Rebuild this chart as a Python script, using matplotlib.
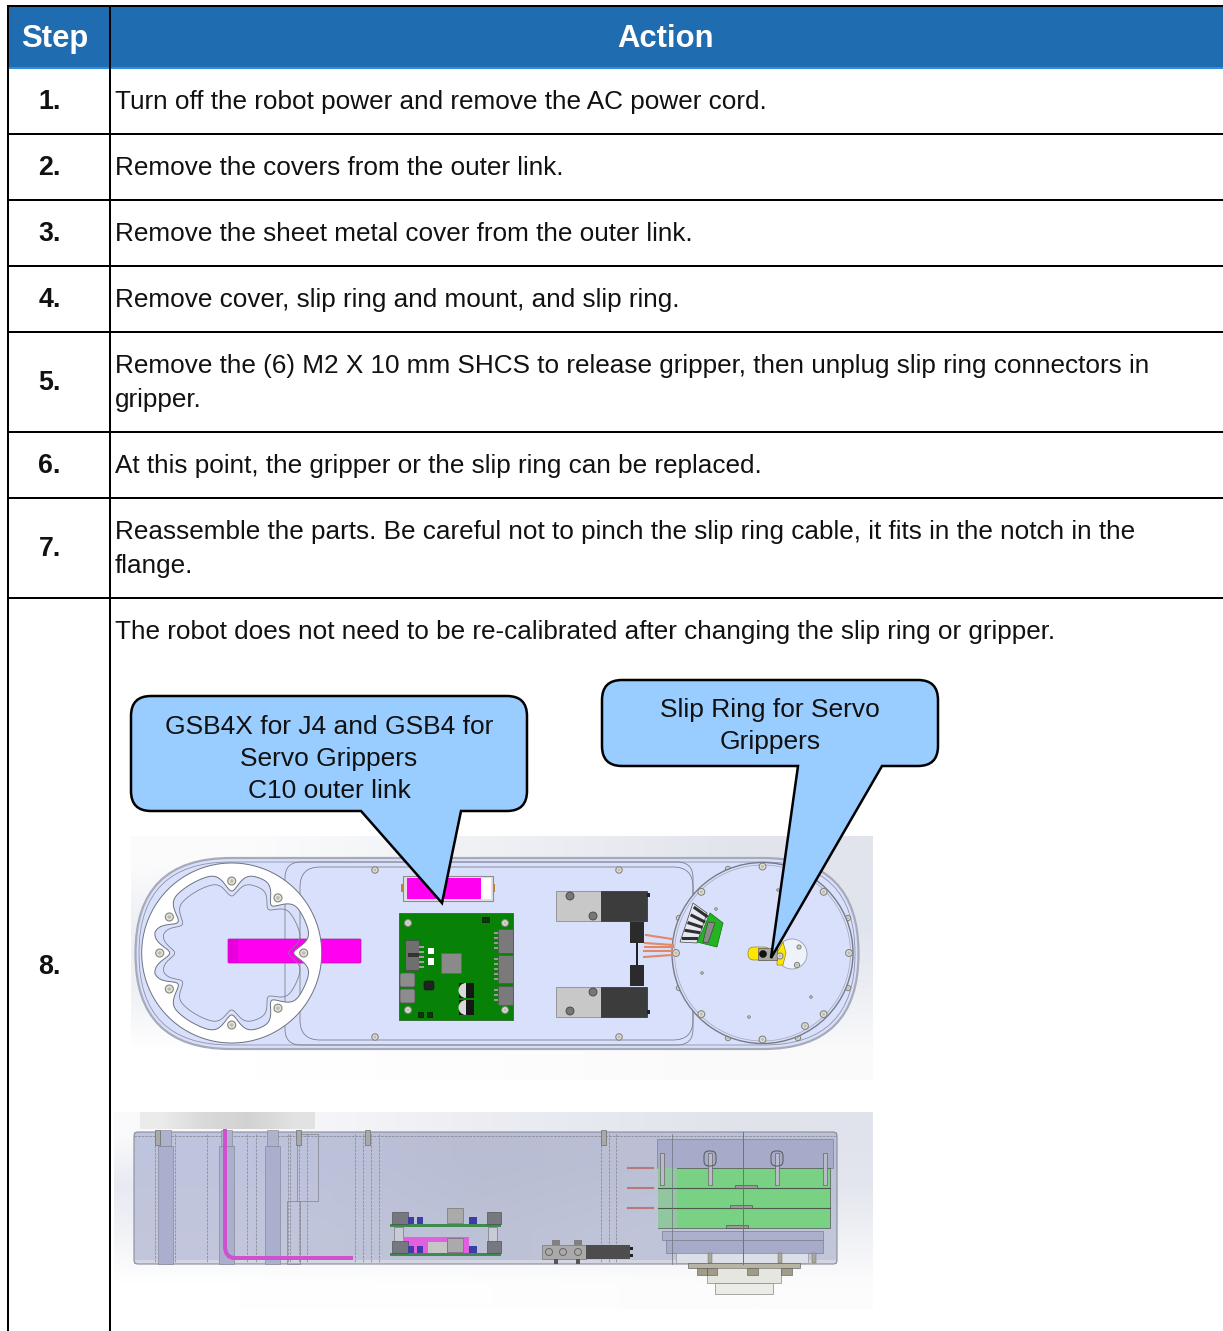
import numpy as np
import matplotlib
matplotlib.use('Agg')
import matplotlib.pyplot as plt
from matplotlib.patches import Rectangle, Circle, Polygon, PathPatch, FancyBboxPatch, Wedge
from matplotlib.path import Path

plt.rcParams['font.family'] = ['Liberation Sans', 'DejaVu Sans']

W, H = 1223, 1331
headers = ['Step', 'Action']
steps = ['1.', '2.', '3.', '4.', '5.', '6.', '7.', '8.']
actions = [
    ['Turn off the robot power and remove the AC power cord.'],
    ['Remove the covers from the outer link.'],
    ['Remove the sheet metal cover from the outer link.'],
    ['Remove cover, slip ring and mount, and slip ring.'],
    ['Remove the (6) M2 X 10 mm SHCS to release gripper, then unplug slip ring connectors in', 'gripper.'],
    ['At this point, the gripper or the slip ring can be replaced.'],
    ['Reassemble the parts. Be careful not to pinch the slip ring cable, it fits in the notch in the', 'flange.'],
    ['The robot does not need to be re-calibrated after changing the slip ring or gripper.'],
]
row_tops = [68, 134, 200, 266, 332, 432, 498, 598]
step_base = [109, 175, 241, 307, 390, 473, 556, 974]
callout1 = ['GSB4X for J4 and GSB4 for', 'Servo Grippers', 'C10 outer link']
callout2 = ['Slip Ring for Servo', 'Grippers']

BLUE = '#1f6cb0'
BODY = '#d9e0fb'
LINE = '#7d808c'
CALL = '#99ccff'

fig = plt.figure(figsize=(W / 100, H / 100), dpi=100)
ax = fig.add_axes([0, 0, 1, 1])
ax.set_xlim(0, W)
ax.set_ylim(H, 0)
ax.axis('off')
px = 0.72  # pixels to points at dpi 100


def rect(x0, y0, x1, y1, fc, ec='none', lw=0, z=3):
    ax.add_patch(Rectangle((x0, y0), x1 - x0, y1 - y0, fc=fc, ec=ec, lw=lw, zorder=z))


def rrect(x0, y0, x1, y1, r, fc='none', ec=LINE, lw=0.7, z=3):
    ax.add_patch(FancyBboxPatch((x0 + r, y0 + r), x1 - x0 - 2 * r, y1 - y0 - 2 * r,
                                boxstyle='round,pad=%f,rounding_size=%f' % (r, r),
                                fc=fc, ec=ec, lw=lw, zorder=z))


def circ(x, y, r, fc='none', ec=LINE, lw=0.7, z=3):
    ax.add_patch(Circle((x, y), r, fc=fc, ec=ec, lw=lw, zorder=z))


def bolt(x, y, r=3.5, z=5):
    circ(x, y, r, '#e4e3da', '#85857f', 0.8, z)
    circ(x, y, r * 0.45, '#bdbcb2', 'none', 0, z)


def shade(x0, y0, x1, y1, grid, z=1):
    # grid of colours, rows top to bottom, blended across the box
    cols = np.array([[matplotlib.colors.to_rgb(c) for c in row] for row in grid])
    ax.imshow(cols, extent=(x0, x1, y1, y0), aspect='auto', interpolation='bilinear', zorder=z)
    ax.set_xlim(0, W)
    ax.set_ylim(H, 0)


def callout(x0, y0, x1, y1, tail, r=20):
    verts = [(x0 + r, y0), (x1 - r, y0), (x1, y0), (x1, y0 + r), (x1, y1 - r), (x1, y1), (x1 - r, y1)]
    codes = [Path.MOVETO, Path.LINETO, Path.CURVE3, Path.CURVE3, Path.LINETO, Path.CURVE3, Path.CURVE3]
    for p in [tail[2], tail[1], tail[0]]:
        verts.append(p)
        codes.append(Path.LINETO)
    verts += [(x0 + r, y1), (x0, y1), (x0, y1 - r), (x0, y0 + r), (x0, y0), (x0 + r, y0), (x0 + r, y0)]
    codes += [Path.LINETO, Path.CURVE3, Path.CURVE3, Path.LINETO, Path.CURVE3, Path.CURVE3, Path.CLOSEPOLY]
    ax.add_patch(PathPatch(Path(verts, codes), fc=CALL, ec='black', lw=2.5 * px, joinstyle='miter', zorder=20))


# top view of the arm
def top_view():
    shade(131, 836, 873, 1080, [['#fbfbfc', '#eef0f4', '#e2e4ec'],
                                ['#eceef3', '#e8eaf1', '#e0e4ee'],
                                ['#eef0f4', '#eceef3', '#eceef3'],
                                ['#ffffff', '#fdfdfe', '#fafafb']])
    rrect(135.5, 858, 858.5, 1049, 95, BODY, '#a6aaba', 1.6, 3)
    rrect(139, 862, 855, 1045, 91, 'none', '#8f93a3', 0.6, 3)
    rrect(285, 862, 693, 1045, 16, 'none', LINE, 0.6, 3)
    rrect(300, 867, 693, 1040, 20, 'none', LINE, 0.6, 3)
    rrect(228, 939, 361, 963, 1, '#ff00f0', '#a020a0', 0.5, 4)
    rect(228, 939, 238, 963, '#e800dc', z=4)

    # wrist ring with the scalloped inner edge
    cx, cy = 231.7, 953
    bolts = np.radians([0, 50, 90, 150, 180, 210, 270, 310])
    th = np.linspace(0, 2 * np.pi, 720, endpoint=False)
    d = np.abs((th[:, None] - bolts + np.pi) % (2 * np.pi) - np.pi)
    bump = np.exp(-(d / 0.14) ** 2).max(axis=1)
    rin = 80 - 18 * bump
    outer = np.c_[cx + 90 * np.cos(th), cy - 90 * np.sin(th)]
    inner = np.c_[cx + rin * np.cos(th), cy - rin * np.sin(th)][::-1]
    verts = np.r_[outer, outer[:1], inner, inner[:1]]
    codes = ([Path.MOVETO] + [Path.LINETO] * 719 + [Path.CLOSEPOLY]) * 2
    ax.add_patch(PathPatch(Path(verts, codes), fc='white', ec='#6e7180', lw=0.7, zorder=5))
    r2 = 71 - 14 * bump
    ax.plot(cx + r2 * np.cos(th), cy - r2 * np.sin(th), color=LINE, lw=0.6, zorder=5)
    for b in bolts:
        bolt(cx + 72 * np.cos(b), cy - 72 * np.sin(b), 4, 6)

    for x, y in [(375, 870), (375, 1037), (619, 870), (619, 1037)]:
        bolt(x, y, 3.2)

    # battery
    rect(403, 876, 493, 901, '#dfe0e6', '#8d8d8d', 0.8, 4)
    rect(407, 878, 481, 899, '#ff00f0', z=5)
    rect(481, 878, 491, 899, 'white', z=5)
    rect(401, 884, 403, 892, '#c08040', z=5)
    rect(493, 884, 495, 892, '#c08040', z=5)

    # PCB
    rect(399, 913, 513, 1020, '#078207', '#2d6a2d', 0.6, 5)
    for x, y in [(408, 923), (505, 923), (408, 1010), (505, 1010)]:
        bolt(x, y, 3.4, 6)
    rect(405, 940, 419, 970, '#6f6f6f', '#444444', 0.5, 6)
    rect(408, 953, 419, 957, '#333333', z=6)
    for y in [946, 951, 956, 961, 966]:
        rect(419, y, 424, y + 1.5, '#a0a0a0', z=6)
    rect(428, 948, 434, 954, 'white', z=6)
    rect(428, 958, 434, 965, 'white', z=6)
    rect(441, 953, 461, 973, '#8a8a8a', '#666666', 0.5, 6)
    for y0, y1 in [(973, 987), (989, 1003)]:
        rrect(400, y0, 415, y1, 2, '#8c8c8c', '#555555', 0.5, 6)
    for y0, y1 in [(929, 953), (955, 983), (986, 1005)]:
        rect(498, y0, 513, y1, '#7a7a7a', '#555555', 0.5, 6)
        for y in range(y0 + 3, y1 - 1, 5):
            rect(494, y, 498, y + 1.5, '#9a9a9a', z=6)
    rrect(424, 981, 434, 990, 2, '#222222', '#111111', 0.4, 6)
    for y in [983, 1000]:
        rect(459, y, 474, y + 15, '#161616', z=6)
        ax.add_patch(Wedge((466, y + 7.5), 7.5, 90, 270, fc='#d9d9d9', ec='none', zorder=7))
    rect(418, 1012, 423, 1017, '#0a3a0a', '#111111', 0.5, 6)
    rect(427, 1012, 432, 1017, '#0a3a0a', '#111111', 0.5, 6)
    rect(482, 917, 489, 922, '#0a3a0a', '#111111', 0.5, 6)

    # gripper jaws
    for y0, b1, b2 in [(891, (570, 896), (593, 916)), (987, (593, 992), (570, 1011))]:
        rect(556, y0, 601, y0 + 30, '#c8c8c8', '#8d8d8d', 0.6, 5)
        rect(601, y0, 647, y0 + 30, '#3c3c3c', '#2a2a2a', 0.5, 5)
        circ(b1[0], b1[1], 4, '#777777', '#444444', 0.6, 6)
        circ(b2[0], b2[1], 4, '#777777', '#444444', 0.6, 6)
    rect(647, 893, 650, 897, '#222222', z=5)
    rect(647, 1010, 650, 1014, '#222222', z=5)
    rect(630, 922, 644, 943, '#2b2b2b', z=5)
    rect(630, 965, 644, 986, '#2b2b2b', z=5)
    rect(636, 943, 637.5, 965, '#222222', z=5)

    # slip ring disk
    circ(762.5, 953, 90.5, BODY, '#777a88', 1.0, 6)
    circ(762.5, 953, 88, 'none', '#a0a4b4', 0.5, 6)
    for a in np.radians([0, 45, 90, 135, 180, 225, 270, 315]):
        bolt(762.5 + 86.5 * np.cos(a), 953 - 86.5 * np.sin(a), 3.4, 7)
    for x, y in [(728, 869), (848, 918), (848, 988), (798, 1038), (728, 1038), (679, 918), (679, 988)]:
        bolt(x, y, 2.6, 5.5)
    bolt(805, 1026, 3.4, 7)
    for x, y in [(716, 909), (702, 973), (749, 1017), (811, 997), (778, 890)]:
        circ(x, y, 1.4, '#b0b0a8', '#777777', 0.4, 7)

    # wires
    for p0, p1 in [((646, 935), (672, 939)), ((645, 943), (673, 945)), ((645, 947), (673, 947)),
                   ((644, 951), (673, 951)), ((644, 957), (672, 955))]:
        ax.plot([p0[0], p1[0]], [p0[1], p1[1]], color='#e08868', lw=1.5, zorder=7)

    # slip ring connector
    ax.add_patch(Polygon([(693, 903), (707, 913), (697, 943), (680, 942)], fc='#e6e8f2', ec='#444444', lw=0.5, zorder=7))
    for i in range(5):
        ax.plot([683 + i * 3, 696 + i * 2.6], [938 - i * 7.5, 938 - i * 5.5], color='#2f2f2f', lw=2.2, zorder=8)
    ax.add_patch(Polygon([(710, 913), (723, 923), (717, 947), (697, 942), (703, 930)], fc='#22b422', ec='#158015', lw=0.6, zorder=8))
    ax.add_patch(Polygon([(708, 922), (715, 923), (708, 943), (703, 942)], fc='#8a8a8a', ec='#444444', lw=0.5, zorder=9))

    # slip ring on the flange
    circ(792, 954, 15, '#eef3fb', '#9aa0a8', 0.6, 7)
    ax.add_patch(Polygon([(777, 953), (783, 942), (786, 953), (783, 965), (777, 965)], fc='#ffe600', ec='#777700', lw=0.4, zorder=7))
    rrect(748, 947, 770, 960, 6, '#ffe600', '#8a8a30', 0.5, 8)
    rect(758, 948, 777, 960, '#a8a8a0', '#555555', 0.5, 8)
    circ(763, 954, 3.5, '#111111', '#111111', 0.4, 9)
    bolt(780, 956, 3, 9)
    bolt(799, 947, 2, 9)
    bolt(797, 965, 2.6, 9)


# side view of the arm
def side_view():
    shade(114, 1112, 873, 1309, [['#fafafc', '#ebedf3', '#e0e3eb'],
                                 ['#e8eaf3', '#e4e7ef', '#e3e6ee'],
                                 ['#f2f3f7', '#f0f1f5', '#f0f1f5'],
                                 ['#ffffff', '#fefefe', '#fcfcfd']])
    shade(140, 1112, 315, 1129, [['#ebebeb', '#d9d9d9', '#d2d2d2', '#e2e2e2']], z=3)
    shade(134, 1132, 837, 1264, [['#bfc4de', '#b8bdd3', '#bcc1d6'],
                                 ['#c2c6dc', '#bcc1d6', '#c2c6da']], z=2)
    rrect(134, 1132, 837, 1264, 4, 'none', '#8a8d99', 0.8, 4)
    rect(135, 1260, 836, 1263.5, '#d3d6e2', z=3)
    ax.plot([134, 837], [1136, 1136], color='#7d808c', lw=0.5, ls='--', zorder=4)

    # vertical columns and hidden lines
    for x0, x1 in [(158, 173), (219, 234), (265, 280)]:
        rect(x0, 1146, x1, 1264, '#a9afcc', '#7d808c', 0.4, 4)
        rect(x0 + 2, 1130, x1 - 2, 1146, '#aeb3cc', '#7d808c', 0.4, 4)
    for x in [155, 175, 207, 247, 256, 288, 290, 299, 307, 355, 363, 371, 379, 601, 609, 616]:
        ax.plot([x, x], [1134, 1262], color='#80838f', lw=0.5, ls='--', zorder=4)
    rect(297, 1134, 318, 1201, 'none', '#8a8d99', 0.6, 4)
    rect(287, 1201, 300, 1264, 'none', '#8a8d99', 0.6, 4)

    # magenta tube
    ax.add_patch(PathPatch(Path([(225, 1129), (225, 1246), (225, 1258), (235, 1258), (353, 1258)],
                                [Path.MOVETO, Path.LINETO, Path.CURVE3, Path.CURVE3, Path.LINETO]),
                           fc='none', ec='#d050d0', lw=4 * px, capstyle='butt', zorder=5))

    for x in [157, 298, 367, 603]:
        rect(x - 2.5, 1130, x + 2.5, 1145, '#a9a9a9', '#6e6e6e', 0.5, 5)

    # two stacked boards
    for y in [1224, 1253]:
        rect(390, y, 501, y + 3, '#3f8a4f', z=6)
        rect(392, y - 12, 408, y, '#777780', '#444444', 0.4, 6)
        rect(487, y - 12, 501, y, '#777780', '#444444', 0.4, 6)
        for x in [408, 417]:
            rect(x, y - 7, x + 6, y, '#3d3da8', z=6)
        rect(469, y - 7, 477, y, '#3d3da8', z=7)
    rect(394, 1227, 403, 1253, '#c8cad6', '#666666', 0.4, 5)
    rect(488, 1227, 497, 1253, '#c8cad6', '#666666', 0.4, 5)
    rect(403, 1237, 469, 1253, '#e060e0', z=5)
    rect(447, 1208, 463, 1223, '#aaaaaa', '#666666', 0.4, 6)
    rect(428, 1242, 447, 1253, '#c6c6c6', z=6)
    rect(447, 1238, 463, 1252, '#aaaaaa', '#666666', 0.4, 6)

    # lower gripper piece
    rect(542, 1245, 586, 1259, '#aaaaaa', '#777777', 0.5, 6)
    rect(586, 1245, 630, 1259, '#4d4d4d', z=6)
    rect(630, 1247, 633, 1250, '#222222', z=6)
    rect(630, 1254, 633, 1257, '#222222', z=6)
    for x in [549, 563, 578]:
        circ(x, 1252, 3.5, 'none', '#666666', 0.7, 7)
    for x in [552, 574]:
        rect(x, 1240, x + 8, 1245, '#808080', z=6)
        rect(x + 2, 1259, x + 6, 1264, '#555555', z=6)

    # green slip ring stack
    rect(657, 1139, 833, 1168, '#a5abc8', '#7d808c', 0.5, 5)
    rect(658, 1168, 830, 1228, '#79d183', '#555555', 0.5, 5)
    rect(658, 1168, 677, 1228, '#92c6a0', z=5)
    for y in [1188, 1208]:
        ax.plot([658, 830], [y, y], color='#4a5a4a', lw=0.8, zorder=6)
    for x0, y in [(735, 1185), (730, 1205), (726, 1225)]:
        rect(x0, y, x0 + 22, y + 3, '#9a9a9a', '#444444', 0.4, 6)
    for y in [1168, 1188, 1208]:
        ax.plot([628, 653], [y, y], color='#b87a78', lw=1.5, zorder=6)
    for x in [662, 710, 777, 825]:
        rect(x - 2, 1153, x + 2, 1185, '#b9bbc8', '#666666', 0.5, 7)
    for x in [710, 777]:
        rrect(x - 6, 1151, x + 6, 1166, 5, 'none', '#555555', 0.7, 7)
    rect(662, 1231, 823, 1240, '#abb1cd', '#7d808c', 0.5, 5)
    rect(666, 1240, 823, 1253, '#a5abc8', '#7d808c', 0.5, 5)
    rect(676, 1253, 808, 1263, '#dcdfe8', '#8a8a8a', 0.4, 5)
    for x in [708, 778, 812]:
        rect(x, 1253, x + 4, 1263, '#a8a89a', '#666660', 0.3, 6)
    ax.plot([743, 743], [1132, 1264], color='#6e717e', lw=0.7, zorder=8)
    ax.plot([672, 672], [1134, 1264], color='#6e717e', lw=0.5, zorder=8)
    rect(688, 1263, 800, 1268, '#b8b4a4', '#666660', 0.5, 5)
    rect(707, 1268, 781, 1283, '#e6e6e0', '#888888', 0.5, 5)
    rect(715, 1283, 773, 1294, '#ecece6', '#888888', 0.5, 5)
    for x0, x1 in [(697, 707), (707, 717), (747, 758), (781, 792)]:
        rect(x0, 1268, x1, 1275, '#a09c88', '#555555', 0.4, 6)


rect(0, 0, W, H, 'white', z=0)
top_view()
side_view()

# table frame
rect(9, 7, W, 68, BLUE, z=2)
rect(9, 67, W, 69, '#2f8de0', z=2)
lw = 2.0 * px
for xs, ys in [([7, W], [6, 6]), ([8, 8], [5, H]), ([110, 110], [5, H])]:
    ax.plot(xs, ys, color='black', lw=lw, solid_capstyle='butt', zorder=30)
for y in row_tops[1:]:
    ax.plot([8, W], [y, y], color='black', lw=lw, solid_capstyle='butt', zorder=30)

ax.text(55, 47, headers[0], color='white', fontsize=31 * px, fontweight='bold', ha='center', va='baseline', zorder=31)
ax.text(665, 47, headers[1], color='white', fontsize=31 * px, fontweight='bold', ha='center', va='baseline', zorder=31)

for s, base, top, lines in zip(steps, step_base, row_tops, actions):
    ax.text(49.5, base, s, color='#111111', fontsize=26.7 * px, fontweight='bold', ha='center', va='baseline', zorder=31)
    for i, line in enumerate(lines):
        ax.text(115, top + 41 + i * 34, line, color='#111111', fontsize=26.07 * px, ha='left', va='baseline', zorder=31)

# callouts
callout(131, 696, 527, 811, [(361, 811), (442, 903), (461, 811)])
callout(602, 680, 938, 766, [(798, 766), (771, 958), (882, 766)])
for i, line in enumerate(callout1):
    ax.text(329, 734 + i * 32, line, color='#111111', fontsize=26.4 * px, ha='center', va='baseline', zorder=31)
for i, line in enumerate(callout2):
    ax.text(770, 717 + i * 32, line, color='#111111', fontsize=26.4 * px, ha='center', va='baseline', zorder=31)

fig.savefig('out.png', dpi=100)
